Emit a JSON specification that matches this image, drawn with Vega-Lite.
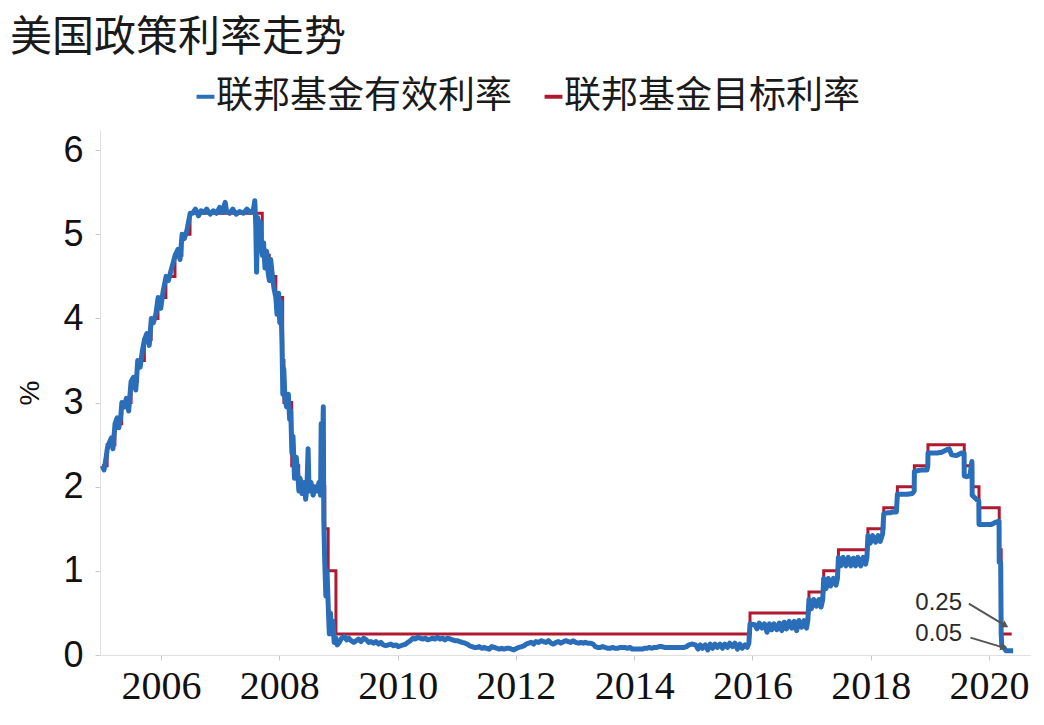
{
  "$schema": "https://vega.github.io/schema/vega-lite/v6.json",
  "width": 930,
  "height": 525,
  "autosize": "none",
  "padding": {"left": 100, "top": 130, "right": 14, "bottom": 70},
  "background": "white",
  "title": {
    "text": "美国政策利率走势",
    "anchor": "start",
    "frame": "group",
    "dx": -90,
    "offset": 18,
    "font": "Noto Sans CJK SC",
    "fontSize": 42,
    "fontWeight": "normal",
    "color": "#1a1a1a"
  },
  "config": {
    "view": {"stroke": null},
    "axis": {"grid": false, "labelFont": "Liberation Sans", "labelColor": "#111111", "tickColor": "#c8c8c8", "domainColor": "#e0e0e0", "tickSize": 5}
  },
  "datasets": {
    "tgt": [
      {"date": "2005-01-01", "rate": 2.25},
      {"date": "2005-02-02", "rate": 2.5},
      {"date": "2005-03-22", "rate": 2.75},
      {"date": "2005-05-03", "rate": 3.0},
      {"date": "2005-06-30", "rate": 3.25},
      {"date": "2005-08-09", "rate": 3.5},
      {"date": "2005-09-20", "rate": 3.75},
      {"date": "2005-11-01", "rate": 4.0},
      {"date": "2005-12-13", "rate": 4.25},
      {"date": "2006-01-31", "rate": 4.5},
      {"date": "2006-03-28", "rate": 4.75},
      {"date": "2006-05-10", "rate": 5.0},
      {"date": "2006-06-29", "rate": 5.25},
      {"date": "2007-09-18", "rate": 4.75},
      {"date": "2007-10-31", "rate": 4.5},
      {"date": "2007-12-11", "rate": 4.25},
      {"date": "2008-01-22", "rate": 3.5},
      {"date": "2008-01-30", "rate": 3.0},
      {"date": "2008-03-18", "rate": 2.25},
      {"date": "2008-04-30", "rate": 2.0},
      {"date": "2008-10-08", "rate": 1.5},
      {"date": "2008-10-29", "rate": 1.0},
      {"date": "2008-12-16", "rate": 0.25},
      {"date": "2015-12-17", "rate": 0.5},
      {"date": "2016-12-15", "rate": 0.75},
      {"date": "2017-03-16", "rate": 1.0},
      {"date": "2017-06-15", "rate": 1.25},
      {"date": "2017-12-14", "rate": 1.5},
      {"date": "2018-03-22", "rate": 1.75},
      {"date": "2018-06-14", "rate": 2.0},
      {"date": "2018-09-27", "rate": 2.25},
      {"date": "2018-12-20", "rate": 2.5},
      {"date": "2019-08-01", "rate": 2.25},
      {"date": "2019-09-19", "rate": 2.0},
      {"date": "2019-10-31", "rate": 1.75},
      {"date": "2020-03-04", "rate": 1.25},
      {"date": "2020-03-16", "rate": 0.25},
      {"date": "2020-05-20", "rate": 0.25}
    ],
    "eff": [
      {"date": "2005-01-03", "rate": 2.25},
      {"date": "2005-01-14", "rate": 2.2},
      {"date": "2005-01-25", "rate": 2.32},
      {"date": "2005-02-03", "rate": 2.45},
      {"date": "2005-02-15", "rate": 2.52},
      {"date": "2005-02-28", "rate": 2.58},
      {"date": "2005-03-10", "rate": 2.45},
      {"date": "2005-03-23", "rate": 2.75},
      {"date": "2005-04-05", "rate": 2.82},
      {"date": "2005-04-15", "rate": 2.7},
      {"date": "2005-04-28", "rate": 2.85},
      {"date": "2005-05-04", "rate": 3.0},
      {"date": "2005-05-20", "rate": 2.95},
      {"date": "2005-06-01", "rate": 3.05},
      {"date": "2005-06-15", "rate": 2.9},
      {"date": "2005-06-30", "rate": 3.25},
      {"date": "2005-07-15", "rate": 3.3},
      {"date": "2005-07-29", "rate": 3.15},
      {"date": "2005-08-10", "rate": 3.5},
      {"date": "2005-08-25", "rate": 3.42},
      {"date": "2005-09-08", "rate": 3.62},
      {"date": "2005-09-21", "rate": 3.75},
      {"date": "2005-10-05", "rate": 3.82},
      {"date": "2005-10-20", "rate": 3.68},
      {"date": "2005-11-02", "rate": 4.0},
      {"date": "2005-11-15", "rate": 3.95},
      {"date": "2005-11-30", "rate": 4.05},
      {"date": "2005-12-14", "rate": 4.25},
      {"date": "2005-12-30", "rate": 4.12},
      {"date": "2006-01-12", "rate": 4.3},
      {"date": "2006-02-01", "rate": 4.5},
      {"date": "2006-02-15", "rate": 4.45},
      {"date": "2006-03-01", "rate": 4.55},
      {"date": "2006-03-29", "rate": 4.75},
      {"date": "2006-04-15", "rate": 4.82},
      {"date": "2006-04-28", "rate": 4.7},
      {"date": "2006-05-11", "rate": 5.0},
      {"date": "2006-05-25", "rate": 4.95},
      {"date": "2006-06-10", "rate": 5.05},
      {"date": "2006-06-30", "rate": 5.25},
      {"date": "2006-07-15", "rate": 5.25},
      {"date": "2006-08-01", "rate": 5.3},
      {"date": "2006-08-20", "rate": 5.22},
      {"date": "2006-09-05", "rate": 5.28},
      {"date": "2006-09-25", "rate": 5.26},
      {"date": "2006-10-10", "rate": 5.3},
      {"date": "2006-11-01", "rate": 5.24},
      {"date": "2006-11-20", "rate": 5.28},
      {"date": "2006-12-10", "rate": 5.25},
      {"date": "2006-12-29", "rate": 5.32},
      {"date": "2007-01-15", "rate": 5.26},
      {"date": "2007-02-01", "rate": 5.38},
      {"date": "2007-02-10", "rate": 5.27},
      {"date": "2007-03-01", "rate": 5.25},
      {"date": "2007-03-20", "rate": 5.3},
      {"date": "2007-04-10", "rate": 5.24},
      {"date": "2007-05-01", "rate": 5.27},
      {"date": "2007-05-25", "rate": 5.25},
      {"date": "2007-06-15", "rate": 5.3},
      {"date": "2007-07-05", "rate": 5.26},
      {"date": "2007-07-25", "rate": 5.29},
      {"date": "2007-08-03", "rate": 5.4},
      {"date": "2007-08-09", "rate": 5.1},
      {"date": "2007-08-14", "rate": 4.55},
      {"date": "2007-08-20", "rate": 5.2},
      {"date": "2007-08-28", "rate": 4.9},
      {"date": "2007-09-06", "rate": 5.15},
      {"date": "2007-09-12", "rate": 4.85},
      {"date": "2007-09-19", "rate": 4.75},
      {"date": "2007-09-26", "rate": 4.9},
      {"date": "2007-10-05", "rate": 4.6},
      {"date": "2007-10-15", "rate": 4.8},
      {"date": "2007-10-24", "rate": 4.55},
      {"date": "2007-11-01", "rate": 4.45},
      {"date": "2007-11-09", "rate": 4.7},
      {"date": "2007-11-20", "rate": 4.5},
      {"date": "2007-11-30", "rate": 4.35},
      {"date": "2007-12-11", "rate": 4.25},
      {"date": "2007-12-18", "rate": 4.05},
      {"date": "2007-12-28", "rate": 4.3},
      {"date": "2008-01-04", "rate": 3.95},
      {"date": "2008-01-11", "rate": 4.2},
      {"date": "2008-01-18", "rate": 3.7},
      {"date": "2008-01-23", "rate": 3.1},
      {"date": "2008-01-29", "rate": 3.4},
      {"date": "2008-02-05", "rate": 3.05},
      {"date": "2008-02-15", "rate": 2.95},
      {"date": "2008-02-26", "rate": 3.1},
      {"date": "2008-03-05", "rate": 2.8},
      {"date": "2008-03-12", "rate": 2.9},
      {"date": "2008-03-19", "rate": 2.4},
      {"date": "2008-03-26", "rate": 2.6},
      {"date": "2008-04-04", "rate": 2.1},
      {"date": "2008-04-15", "rate": 2.35},
      {"date": "2008-04-24", "rate": 2.15},
      {"date": "2008-05-01", "rate": 1.95},
      {"date": "2008-05-09", "rate": 2.1},
      {"date": "2008-05-20", "rate": 1.92},
      {"date": "2008-06-02", "rate": 2.05},
      {"date": "2008-06-12", "rate": 1.85},
      {"date": "2008-06-20", "rate": 2.0},
      {"date": "2008-06-27", "rate": 2.45},
      {"date": "2008-07-03", "rate": 1.95},
      {"date": "2008-07-15", "rate": 2.05},
      {"date": "2008-07-28", "rate": 1.9},
      {"date": "2008-08-08", "rate": 2.0},
      {"date": "2008-08-20", "rate": 1.95},
      {"date": "2008-09-02", "rate": 2.05},
      {"date": "2008-09-12", "rate": 1.9},
      {"date": "2008-09-16", "rate": 2.75},
      {"date": "2008-09-20", "rate": 1.95},
      {"date": "2008-09-29", "rate": 2.95},
      {"date": "2008-10-02", "rate": 1.6},
      {"date": "2008-10-08", "rate": 1.1},
      {"date": "2008-10-15", "rate": 0.7},
      {"date": "2008-10-22", "rate": 1.0},
      {"date": "2008-10-29", "rate": 0.6},
      {"date": "2008-11-05", "rate": 0.25},
      {"date": "2008-11-12", "rate": 0.5},
      {"date": "2008-11-19", "rate": 0.25},
      {"date": "2008-11-28", "rate": 0.4},
      {"date": "2008-12-05", "rate": 0.15},
      {"date": "2008-12-16", "rate": 0.2},
      {"date": "2008-12-24", "rate": 0.12},
      {"date": "2009-01-05", "rate": 0.15},
      {"date": "2009-01-20", "rate": 0.2},
      {"date": "2009-02-05", "rate": 0.22},
      {"date": "2009-02-20", "rate": 0.18},
      {"date": "2009-03-05", "rate": 0.2},
      {"date": "2009-03-20", "rate": 0.17},
      {"date": "2009-04-05", "rate": 0.15},
      {"date": "2009-04-20", "rate": 0.17},
      {"date": "2009-05-05", "rate": 0.19},
      {"date": "2009-05-20", "rate": 0.16},
      {"date": "2009-06-05", "rate": 0.2},
      {"date": "2009-06-22", "rate": 0.18},
      {"date": "2009-07-06", "rate": 0.15},
      {"date": "2009-07-20", "rate": 0.16},
      {"date": "2009-08-05", "rate": 0.14},
      {"date": "2009-08-20", "rate": 0.16},
      {"date": "2009-09-05", "rate": 0.13},
      {"date": "2009-09-20", "rate": 0.15},
      {"date": "2009-10-05", "rate": 0.12},
      {"date": "2009-10-20", "rate": 0.11},
      {"date": "2009-11-05", "rate": 0.12},
      {"date": "2009-11-20", "rate": 0.13},
      {"date": "2009-12-07", "rate": 0.11},
      {"date": "2009-12-21", "rate": 0.12},
      {"date": "2010-01-05", "rate": 0.1},
      {"date": "2010-01-20", "rate": 0.11},
      {"date": "2010-02-05", "rate": 0.12},
      {"date": "2010-02-20", "rate": 0.13},
      {"date": "2010-03-05", "rate": 0.15},
      {"date": "2010-03-20", "rate": 0.17},
      {"date": "2010-04-05", "rate": 0.2},
      {"date": "2010-04-20", "rate": 0.19},
      {"date": "2010-05-05", "rate": 0.21},
      {"date": "2010-05-20", "rate": 0.2},
      {"date": "2010-06-05", "rate": 0.19},
      {"date": "2010-06-21", "rate": 0.2},
      {"date": "2010-07-06", "rate": 0.18},
      {"date": "2010-07-20", "rate": 0.19},
      {"date": "2010-08-05", "rate": 0.2},
      {"date": "2010-08-20", "rate": 0.19},
      {"date": "2010-09-03", "rate": 0.21},
      {"date": "2010-09-20", "rate": 0.19},
      {"date": "2010-10-05", "rate": 0.2},
      {"date": "2010-10-20", "rate": 0.18},
      {"date": "2010-11-05", "rate": 0.2},
      {"date": "2010-11-22", "rate": 0.19},
      {"date": "2010-12-06", "rate": 0.18},
      {"date": "2010-12-20", "rate": 0.17},
      {"date": "2011-01-05", "rate": 0.17},
      {"date": "2011-01-20", "rate": 0.16},
      {"date": "2011-02-04", "rate": 0.15},
      {"date": "2011-02-22", "rate": 0.14},
      {"date": "2011-03-07", "rate": 0.13},
      {"date": "2011-03-21", "rate": 0.11},
      {"date": "2011-04-05", "rate": 0.1},
      {"date": "2011-04-20", "rate": 0.09},
      {"date": "2011-05-05", "rate": 0.09},
      {"date": "2011-05-20", "rate": 0.1},
      {"date": "2011-06-06", "rate": 0.08},
      {"date": "2011-06-20", "rate": 0.09},
      {"date": "2011-07-05", "rate": 0.08},
      {"date": "2011-07-20", "rate": 0.07},
      {"date": "2011-08-05", "rate": 0.1},
      {"date": "2011-08-22", "rate": 0.09},
      {"date": "2011-09-06", "rate": 0.08},
      {"date": "2011-09-20", "rate": 0.07},
      {"date": "2011-10-05", "rate": 0.08},
      {"date": "2011-10-20", "rate": 0.07},
      {"date": "2011-11-04", "rate": 0.08},
      {"date": "2011-11-21", "rate": 0.08},
      {"date": "2011-12-05", "rate": 0.07},
      {"date": "2011-12-20", "rate": 0.06},
      {"date": "2012-01-05", "rate": 0.08},
      {"date": "2012-01-20", "rate": 0.09},
      {"date": "2012-02-06", "rate": 0.1},
      {"date": "2012-02-21", "rate": 0.11},
      {"date": "2012-03-05", "rate": 0.13},
      {"date": "2012-03-20", "rate": 0.14},
      {"date": "2012-04-05", "rate": 0.15},
      {"date": "2012-04-20", "rate": 0.13},
      {"date": "2012-05-04", "rate": 0.16},
      {"date": "2012-05-21", "rate": 0.15},
      {"date": "2012-06-05", "rate": 0.17},
      {"date": "2012-06-20", "rate": 0.16},
      {"date": "2012-07-05", "rate": 0.15},
      {"date": "2012-07-20", "rate": 0.17},
      {"date": "2012-08-06", "rate": 0.14},
      {"date": "2012-08-20", "rate": 0.13},
      {"date": "2012-09-05", "rate": 0.15},
      {"date": "2012-09-20", "rate": 0.16},
      {"date": "2012-10-05", "rate": 0.14},
      {"date": "2012-10-22", "rate": 0.16},
      {"date": "2012-11-05", "rate": 0.17},
      {"date": "2012-11-20", "rate": 0.16},
      {"date": "2012-12-05", "rate": 0.15},
      {"date": "2012-12-20", "rate": 0.17},
      {"date": "2013-01-04", "rate": 0.15},
      {"date": "2013-01-22", "rate": 0.14},
      {"date": "2013-02-05", "rate": 0.15},
      {"date": "2013-02-20", "rate": 0.14},
      {"date": "2013-03-05", "rate": 0.15},
      {"date": "2013-03-20", "rate": 0.14},
      {"date": "2013-04-05", "rate": 0.14},
      {"date": "2013-04-22", "rate": 0.13},
      {"date": "2013-05-06", "rate": 0.1},
      {"date": "2013-05-20", "rate": 0.09},
      {"date": "2013-06-05", "rate": 0.09},
      {"date": "2013-06-20", "rate": 0.1},
      {"date": "2013-07-05", "rate": 0.09},
      {"date": "2013-07-22", "rate": 0.08},
      {"date": "2013-08-05", "rate": 0.08},
      {"date": "2013-08-20", "rate": 0.09},
      {"date": "2013-09-05", "rate": 0.08},
      {"date": "2013-09-20", "rate": 0.08},
      {"date": "2013-10-07", "rate": 0.09},
      {"date": "2013-10-21", "rate": 0.09},
      {"date": "2013-11-05", "rate": 0.09},
      {"date": "2013-11-20", "rate": 0.08},
      {"date": "2013-12-05", "rate": 0.09},
      {"date": "2013-12-20", "rate": 0.07},
      {"date": "2014-01-06", "rate": 0.07},
      {"date": "2014-01-21", "rate": 0.07},
      {"date": "2014-02-05", "rate": 0.07},
      {"date": "2014-02-20", "rate": 0.07},
      {"date": "2014-03-05", "rate": 0.08},
      {"date": "2014-03-20", "rate": 0.08},
      {"date": "2014-04-04", "rate": 0.09},
      {"date": "2014-04-21", "rate": 0.08},
      {"date": "2014-05-05", "rate": 0.09},
      {"date": "2014-05-20", "rate": 0.09},
      {"date": "2014-06-05", "rate": 0.1},
      {"date": "2014-06-20", "rate": 0.1},
      {"date": "2014-07-07", "rate": 0.09},
      {"date": "2014-07-21", "rate": 0.09},
      {"date": "2014-08-05", "rate": 0.09},
      {"date": "2014-08-20", "rate": 0.09},
      {"date": "2014-09-05", "rate": 0.09},
      {"date": "2014-09-22", "rate": 0.09},
      {"date": "2014-10-06", "rate": 0.09},
      {"date": "2014-10-20", "rate": 0.09},
      {"date": "2014-11-05", "rate": 0.09},
      {"date": "2014-11-20", "rate": 0.1},
      {"date": "2014-12-05", "rate": 0.12},
      {"date": "2014-12-22", "rate": 0.13},
      {"date": "2015-01-15", "rate": 0.12},
      {"date": "2015-01-30", "rate": 0.07},
      {"date": "2015-02-13", "rate": 0.12},
      {"date": "2015-02-27", "rate": 0.08},
      {"date": "2015-03-16", "rate": 0.12},
      {"date": "2015-03-31", "rate": 0.06},
      {"date": "2015-04-15", "rate": 0.13},
      {"date": "2015-04-30", "rate": 0.08},
      {"date": "2015-05-15", "rate": 0.13},
      {"date": "2015-05-29", "rate": 0.09},
      {"date": "2015-06-15", "rate": 0.13},
      {"date": "2015-06-30", "rate": 0.08},
      {"date": "2015-07-15", "rate": 0.13},
      {"date": "2015-07-31", "rate": 0.09},
      {"date": "2015-08-14", "rate": 0.14},
      {"date": "2015-08-31", "rate": 0.1},
      {"date": "2015-09-15", "rate": 0.14},
      {"date": "2015-09-30", "rate": 0.07},
      {"date": "2015-10-15", "rate": 0.13},
      {"date": "2015-10-30", "rate": 0.08},
      {"date": "2015-11-16", "rate": 0.12},
      {"date": "2015-11-30", "rate": 0.09},
      {"date": "2015-12-10", "rate": 0.14},
      {"date": "2015-12-17", "rate": 0.37},
      {"date": "2016-01-15", "rate": 0.36},
      {"date": "2016-01-29", "rate": 0.31},
      {"date": "2016-02-12", "rate": 0.38},
      {"date": "2016-02-29", "rate": 0.32},
      {"date": "2016-03-15", "rate": 0.37},
      {"date": "2016-03-31", "rate": 0.27},
      {"date": "2016-04-15", "rate": 0.37},
      {"date": "2016-04-29", "rate": 0.3},
      {"date": "2016-05-13", "rate": 0.37},
      {"date": "2016-05-31", "rate": 0.3},
      {"date": "2016-06-15", "rate": 0.38},
      {"date": "2016-06-30", "rate": 0.29},
      {"date": "2016-07-15", "rate": 0.39},
      {"date": "2016-07-29", "rate": 0.31},
      {"date": "2016-08-15", "rate": 0.4},
      {"date": "2016-08-31", "rate": 0.32},
      {"date": "2016-09-15", "rate": 0.4},
      {"date": "2016-09-30", "rate": 0.29},
      {"date": "2016-10-14", "rate": 0.41},
      {"date": "2016-10-31", "rate": 0.33},
      {"date": "2016-11-15", "rate": 0.41},
      {"date": "2016-11-30", "rate": 0.32},
      {"date": "2016-12-08", "rate": 0.41},
      {"date": "2016-12-15", "rate": 0.66},
      {"date": "2016-12-30", "rate": 0.55},
      {"date": "2017-01-13", "rate": 0.66},
      {"date": "2017-01-31", "rate": 0.58},
      {"date": "2017-02-15", "rate": 0.66},
      {"date": "2017-02-28", "rate": 0.57},
      {"date": "2017-03-10", "rate": 0.66},
      {"date": "2017-03-16", "rate": 0.91},
      {"date": "2017-03-31", "rate": 0.79},
      {"date": "2017-04-13", "rate": 0.91},
      {"date": "2017-04-28", "rate": 0.82},
      {"date": "2017-05-15", "rate": 0.91},
      {"date": "2017-05-31", "rate": 0.83},
      {"date": "2017-06-09", "rate": 0.91},
      {"date": "2017-06-15", "rate": 1.16},
      {"date": "2017-06-30", "rate": 1.06},
      {"date": "2017-07-14", "rate": 1.16},
      {"date": "2017-07-31", "rate": 1.06},
      {"date": "2017-08-15", "rate": 1.16},
      {"date": "2017-08-31", "rate": 1.06},
      {"date": "2017-09-15", "rate": 1.15},
      {"date": "2017-09-29", "rate": 1.06},
      {"date": "2017-10-13", "rate": 1.16},
      {"date": "2017-10-31", "rate": 1.06},
      {"date": "2017-11-15", "rate": 1.16},
      {"date": "2017-11-30", "rate": 1.08},
      {"date": "2017-12-08", "rate": 1.16},
      {"date": "2017-12-14", "rate": 1.42},
      {"date": "2017-12-29", "rate": 1.33},
      {"date": "2018-01-12", "rate": 1.42},
      {"date": "2018-01-31", "rate": 1.34},
      {"date": "2018-02-15", "rate": 1.42},
      {"date": "2018-02-28", "rate": 1.35},
      {"date": "2018-03-15", "rate": 1.44},
      {"date": "2018-03-22", "rate": 1.68},
      {"date": "2018-04-13", "rate": 1.69},
      {"date": "2018-04-30", "rate": 1.69},
      {"date": "2018-05-15", "rate": 1.7},
      {"date": "2018-05-31", "rate": 1.7},
      {"date": "2018-06-08", "rate": 1.7},
      {"date": "2018-06-14", "rate": 1.91},
      {"date": "2018-07-13", "rate": 1.91},
      {"date": "2018-08-15", "rate": 1.91},
      {"date": "2018-09-14", "rate": 1.92},
      {"date": "2018-09-26", "rate": 1.95},
      {"date": "2018-09-27", "rate": 2.18},
      {"date": "2018-10-15", "rate": 2.19},
      {"date": "2018-11-15", "rate": 2.2},
      {"date": "2018-12-14", "rate": 2.2},
      {"date": "2018-12-19", "rate": 2.25},
      {"date": "2018-12-20", "rate": 2.4},
      {"date": "2019-01-15", "rate": 2.4},
      {"date": "2019-02-15", "rate": 2.4},
      {"date": "2019-03-15", "rate": 2.41},
      {"date": "2019-04-15", "rate": 2.44},
      {"date": "2019-04-30", "rate": 2.45},
      {"date": "2019-05-15", "rate": 2.38},
      {"date": "2019-06-14", "rate": 2.37},
      {"date": "2019-07-15", "rate": 2.4},
      {"date": "2019-07-31", "rate": 2.4},
      {"date": "2019-08-01", "rate": 2.13},
      {"date": "2019-08-15", "rate": 2.12},
      {"date": "2019-09-05", "rate": 2.13},
      {"date": "2019-09-17", "rate": 2.3},
      {"date": "2019-09-18", "rate": 2.25},
      {"date": "2019-09-19", "rate": 1.9},
      {"date": "2019-10-15", "rate": 1.85},
      {"date": "2019-10-30", "rate": 1.83},
      {"date": "2019-10-31", "rate": 1.55},
      {"date": "2019-11-15", "rate": 1.55},
      {"date": "2019-12-13", "rate": 1.55},
      {"date": "2019-12-31", "rate": 1.55},
      {"date": "2020-01-15", "rate": 1.55},
      {"date": "2020-02-14", "rate": 1.58},
      {"date": "2020-03-03", "rate": 1.59},
      {"date": "2020-03-04", "rate": 1.1},
      {"date": "2020-03-13", "rate": 1.1},
      {"date": "2020-03-16", "rate": 0.25},
      {"date": "2020-03-20", "rate": 0.1},
      {"date": "2020-04-01", "rate": 0.09},
      {"date": "2020-04-15", "rate": 0.05},
      {"date": "2020-05-01", "rate": 0.05},
      {"date": "2020-05-29", "rate": 0.05}
    ],
    "notes": [
      {"date": "2019-02-24", "rate": 0.62, "label": "0.25"},
      {"date": "2019-02-24", "rate": 0.25, "label": "0.05"}
    ],
    "arrows": [
      {"d1": "2019-08-29", "r1": 0.61, "d2": "2020-04-11", "r2": 0.35, "ang": 30},
      {"d1": "2019-09-08", "r1": 0.207, "d2": "2020-04-01", "r2": 0.088, "ang": 17}
    ]
  },
  "layer": [
    {
      "data": {"name": "tgt"},
      "mark": {"type": "line", "interpolate": "step-after", "strokeWidth": 3},
      "encoding": {
        "x": {"field": "date", "type": "temporal", "scale": {"domain": ["2004-12-20", "2020-09-10"]},
          "axis": {"title": null, "values": [{"year": 2006}, {"year": 2008}, {"year": 2010}, {"year": 2012}, {"year": 2014}, {"year": 2016}, {"year": 2018}, {"year": 2020}], "format": "%Y", "labelFont": "Liberation Sans Narrow", "labelFontSize": 40, "labelPadding": 6}},
        "y": {"field": "rate", "type": "quantitative", "scale": {"domain": [0, 6.24], "nice": false, "zero": true},
          "axis": {"title": "%", "values": [0, 1, 2, 3, 4, 5, 6], "format": "d", "labelFontSize": 36, "labelPadding": 12, "titleFontSize": 28, "titleFont": "Liberation Sans", "titleFontWeight": "normal", "titleColor": "#111111", "titlePadding": 18}},
        "color": {"datum": "联邦基金目标利率", "type": "nominal",
          "scale": {"domain": ["联邦基金有效利率", "联邦基金目标利率"], "range": ["#2a6db8", "#b01a30"]},
          "legend": {"orient": "none", "legendX": 87, "legendY": -52, "direction": "horizontal", "title": null,
            "symbolType": "stroke", "symbolStrokeWidth": 4, "symbolSize": 320, "labelFont": "Noto Sans CJK SC",
            "labelFontSize": 37, "labelColor": "#1a1a1a", "labelOffset": -8, "labelLimit": 500, "columnPadding": 23}}
      }
    },
    {
      "data": {"name": "eff"},
      "mark": {"type": "line", "strokeWidth": 5, "strokeJoin": "round"},
      "encoding": {
        "x": {"field": "date", "type": "temporal"},
        "y": {"field": "rate", "type": "quantitative"},
        "color": {"datum": "联邦基金有效利率", "type": "nominal"}
      }
    },
    {
      "data": {"name": "arrows"},
      "mark": {"type": "rule", "color": "#555555", "strokeWidth": 2},
      "encoding": {
        "x": {"field": "d1", "type": "temporal"},
        "y": {"field": "r1", "type": "quantitative"},
        "x2": {"field": "d2"},
        "y2": {"field": "r2"}
      }
    },
    {
      "data": {"name": "arrows"},
      "mark": {"type": "point", "shape": "triangle-right", "filled": true, "color": "#555555", "size": 60, "opacity": 1},
      "encoding": {
        "x": {"field": "d2", "type": "temporal"},
        "y": {"field": "r2", "type": "quantitative"},
        "angle": {"field": "ang", "type": "quantitative", "scale": null}
      }
    },
    {
      "data": {"name": "notes"},
      "mark": {"type": "text", "font": "Liberation Sans", "fontSize": 24, "color": "#2a2a2a", "align": "center", "baseline": "middle"},
      "encoding": {
        "x": {"field": "date", "type": "temporal"},
        "y": {"field": "rate", "type": "quantitative"},
        "text": {"field": "label"}
      }
    }
  ]
}
